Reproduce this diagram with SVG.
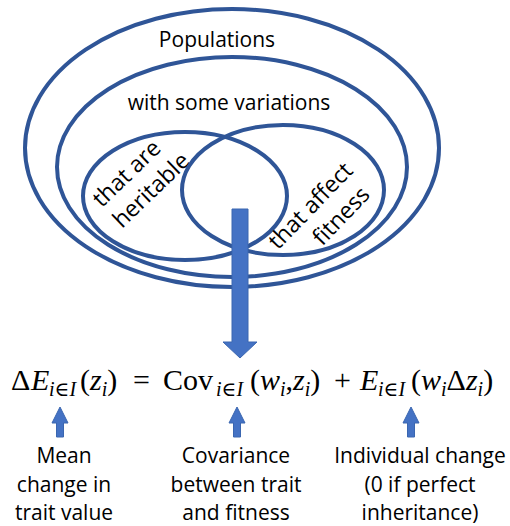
<svg xmlns="http://www.w3.org/2000/svg" width="510" height="526" viewBox="0 0 510 526">
<style>
.ring{fill:none;stroke:#2F5597;stroke-width:4}
.lbl{font-family:"Open Sans","Noto Sans",sans-serif;font-size:21px;fill:#000;text-anchor:middle}
.rot{font-size:23px}
.eq{font-family:"Liberation Serif","DejaVu Serif",serif;font-size:30px;fill:#000}
.it{font-style:italic}
.sub{font-size:20px}
.arr{fill:#4472C4;stroke:#3A66B0;stroke-width:1}
</style>
<rect width="510" height="526" fill="#fff"/>
<g id="populations">
<ellipse class="ring" cx="232" cy="148" rx="207" ry="139"/>
<text class="lbl" x="217" y="47">Populations</text>
</g>
<g id="variations">
<ellipse class="ring" cx="232" cy="167" rx="175" ry="110"/>
<text class="lbl" x="229" y="110">with some variations</text>
</g>
<g id="heritable">
<ellipse class="ring" cx="185" cy="196" rx="102" ry="64"/>
<g transform="translate(139,182) rotate(-44)">
<text class="lbl rot" x="-3" y="-7">that are</text>
<text class="lbl rot" x="3" y="22">heritable</text>
</g>
</g>
<g id="fitness">
<ellipse class="ring" cx="283" cy="190" rx="101" ry="65"/>
<g transform="translate(326,211) rotate(-46)">
<text class="lbl rot" x="-7" y="-7">that affect</text>
<text class="lbl rot" x="7" y="22">fitness</text>
</g>
</g>
<g id="equation" class="eq">
<text x="11" y="390">Δ</text>
<text class="it" x="31" y="390">E</text>
<text class="sub" x="49" y="396"><tspan class="it">i</tspan>∈<tspan class="it">I</tspan></text>
<text x="80" y="390">(<tspan class="it">z</tspan><tspan class="sub it" dy="6">i</tspan><tspan dy="-6">)</tspan></text>
<text x="133" y="390">=</text>
<text x="163" y="390">Cov</text>
<text class="sub" x="216" y="396"><tspan class="it">i</tspan>∈<tspan class="it">I</tspan></text>
<text x="250" y="390">(<tspan class="it">w</tspan><tspan class="sub it" dy="6">i</tspan><tspan dy="-6">,</tspan><tspan class="it">z</tspan><tspan class="sub it" dy="6">i</tspan><tspan dy="-6">)</tspan></text>
<text x="334" y="390">+</text>
<text class="it" x="360" y="390">E</text>
<text class="sub" x="378" y="396"><tspan class="it">i</tspan>∈<tspan class="it">I</tspan></text>
<text x="411" y="390">(<tspan class="it">w</tspan><tspan class="sub it" dy="6">i</tspan><tspan dy="-6">Δ</tspan><tspan class="it">z</tspan><tspan class="sub it" dy="6">i</tspan><tspan dy="-6">)</tspan></text>
</g>
<g id="label-mean">
<text class="lbl" x="64" y="463">Mean</text>
<text class="lbl" x="64" y="492">change in</text>
<text class="lbl" x="64" y="520">trait value</text>
</g>
<g id="label-cov">
<text class="lbl" x="236" y="463">Covariance</text>
<text class="lbl" x="236" y="492">between trait</text>
<text class="lbl" x="236" y="520">and fitness</text>
</g>
<g id="label-indiv">
<text class="lbl" x="420" y="463">Individual change</text>
<text class="lbl" x="420" y="492">(0 if perfect</text>
<text class="lbl" x="420" y="520">inheritance)</text>
</g>
<g id="connectors">
<path class="arr" d="M232,209 H248 V342 H257 L240,358 L223,342 H232 Z"/>
<path class="arr" d="M60,407 L68,423 H63.5 V437 H56.5 V423 H52 Z"/>
<path class="arr" d="M237,407 L245,423 H240.5 V437 H233.5 V423 H229 Z"/>
<path class="arr" d="M411,407 L419,423 H414.5 V437 H407.5 V423 H403 Z"/>
</g>
</svg>
